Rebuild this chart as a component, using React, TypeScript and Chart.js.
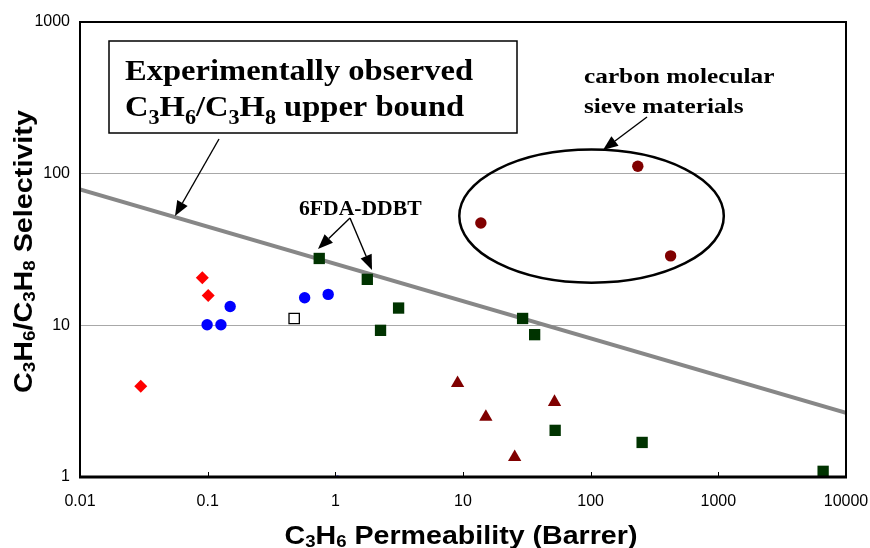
import { useEffect, useRef } from "react";
import { Chart, registerables } from "chart.js";

Chart.register(...registerables);

// C3H6 permeability (Barrer) vs. C3H6/C3H8 selectivity, grouped by material family
const diamondPerm = [0.0908, 0.101, 0.0299];
const diamondSel = [20.6, 15.7, 3.96];
const circlePerm = [0.099, 0.127, 0.15, 0.575, 0.879, 1.04];
const circleSel = [10.1, 10.1, 13.3, 15.2, 16.0, 0.94];
const openSquarePerm = [0.476];
const openSquareSel = [11.1];
const ddbtPerm = [0.748, 1.78, 3.13, 2.26, 29.3, 36.4, 52.7, 253, 6620];
const ddbtSel = [27.6, 20.1, 13.0, 9.27, 11.1, 8.68, 2.03, 1.69, 1.09];
const trianglePerm = [9.07, 15.1, 52.1, 25.4];
const triangleSel = [4.16, 2.49, 3.12, 1.35];
const cmsPerm = [13.8, 234, 423];
const cmsSel = [47.3, 112, 28.7];

// upper bound trade-off line end points
const boundPerm = [0.01, 10000];
const boundSel = [78.7, 2.65];

const xTickValues = [0.01, 0.1, 1, 10, 100, 1000, 10000];
const xTickLabels = ["0.01", "0.1", "1", "10", "100", "1000", "10000"];
const yTickValues = [1, 10, 100, 1000];
const yTickLabels = ["1", "10", "100", "1000"];

// carbon molecular sieve grouping ellipse (centre in data units, radii in decades)
const cmsEllipseCenter = { perm: 101.6, sel: 52.5 };
const cmsEllipseRadius = { permDecades: 1.036, selDecades: 0.439 };

const zip = (xs: number[], ys: number[]) => xs.map((x, i) => ({ x, y: ys[i] }));

type Seg = { t: string; sub?: boolean };

function richWidth(ctx: CanvasRenderingContext2D, segs: Seg[], font: (s: number) => string, size: number, subScale: number) {
  let w = 0;
  for (const s of segs) {
    ctx.font = font(s.sub ? size * subScale : size);
    w += ctx.measureText(s.t).width;
  }
  return w;
}

function drawRich(
  ctx: CanvasRenderingContext2D,
  x: number,
  y: number,
  segs: Seg[],
  opts: { family: string; size: number; subScale: number; subDrop: number; sx: number; align: "left" | "center" }
) {
  const font = (s: number) => `bold ${s}px ${opts.family}`;
  const w = richWidth(ctx, segs, font, opts.size, opts.subScale);
  ctx.save();
  ctx.translate(x, y);
  ctx.scale(opts.sx, 1);
  let cx = opts.align === "center" ? -w / 2 : 0;
  ctx.textBaseline = "alphabetic";
  ctx.textAlign = "left";
  ctx.fillStyle = "#000";
  for (const s of segs) {
    const size = s.sub ? opts.size * opts.subScale : opts.size;
    ctx.font = font(size);
    ctx.fillText(s.t, cx, s.sub ? opts.size * opts.subDrop : 0);
    cx += ctx.measureText(s.t).width;
  }
  ctx.restore();
}

function drawArrow(ctx: CanvasRenderingContext2D, x1: number, y1: number, x2: number, y2: number, head = 15, half = 6) {
  const ang = Math.atan2(y2 - y1, x2 - x1);
  const bx = x2 - Math.cos(ang) * head;
  const by = y2 - Math.sin(ang) * head;
  ctx.save();
  ctx.strokeStyle = "#000";
  ctx.fillStyle = "#000";
  ctx.lineWidth = 1.4;
  ctx.beginPath();
  ctx.moveTo(x1, y1);
  ctx.lineTo(bx, by);
  ctx.stroke();
  ctx.beginPath();
  ctx.moveTo(x2, y2);
  ctx.lineTo(bx + Math.sin(ang) * half, by - Math.cos(ang) * half);
  ctx.lineTo(bx - Math.sin(ang) * half, by + Math.cos(ang) * half);
  ctx.closePath();
  ctx.fill();
  ctx.restore();
}

const SERIF = "'Liberation Serif', 'Times New Roman', serif";
const SANS = "'Liberation Sans', Arial, sans-serif";

const overlayPlugin = {
  id: "overlay",
  afterDraw(chart: any) {
    const ctx: CanvasRenderingContext2D = chart.ctx;
    const { left, right, top, bottom } = chart.chartArea;
    const xs = chart.scales.x;
    const ys = chart.scales.y;

    // plot frame
    ctx.save();
    ctx.strokeStyle = "#000";
    ctx.lineWidth = 2;
    ctx.strokeRect(left, top, right - left, bottom - top);
    ctx.lineWidth = 3;
    ctx.beginPath();
    ctx.moveTo(left - 1, bottom);
    ctx.lineTo(right + 1, bottom);
    ctx.stroke();

    // small inward tick marks on the x axis
    ctx.lineWidth = 1;
    for (const v of xTickValues.slice(1, -1)) {
      const px = Math.round(xs.getPixelForValue(v)) + 0.5;
      ctx.beginPath();
      ctx.moveTo(px, bottom);
      ctx.lineTo(px, bottom - 5);
      ctx.stroke();
    }
    ctx.restore();

    // ellipse around the carbon molecular sieve points
    const ecx = xs.getPixelForValue(cmsEllipseCenter.perm);
    const ecy = ys.getPixelForValue(cmsEllipseCenter.sel);
    const erx = xs.getPixelForValue(cmsEllipseCenter.perm * Math.pow(10, cmsEllipseRadius.permDecades)) - ecx;
    const ery = ecy - ys.getPixelForValue(cmsEllipseCenter.sel * Math.pow(10, cmsEllipseRadius.selDecades));
    ctx.save();
    ctx.strokeStyle = "#000";
    ctx.lineWidth = 2.5;
    ctx.beginPath();
    ctx.ellipse(ecx, ecy, erx, ery, 0, 0, Math.PI * 2);
    ctx.stroke();
    ctx.restore();

    // upper bound label box
    ctx.save();
    ctx.fillStyle = "#fff";
    ctx.fillRect(109, 41, 408, 92);
    ctx.strokeStyle = "#000";
    ctx.lineWidth = 1.5;
    ctx.strokeRect(109, 41, 408, 92);
    ctx.restore();
    const boxOpts = { family: SERIF, size: 30, subScale: 0.68, subDrop: 0.27, sx: 1.085, align: "left" as const };
    drawRich(ctx, 125, 80, [{ t: "Experimentally observed" }], boxOpts);
    drawRich(
      ctx,
      125,
      116,
      [
        { t: "C" }, { t: "3", sub: true }, { t: "H" }, { t: "6", sub: true },
        { t: "/C" }, { t: "3", sub: true }, { t: "H" }, { t: "8", sub: true },
        { t: " upper bound" },
      ],
      boxOpts
    );
    drawArrow(ctx, 219, 139, 175, 216);

    // 6FDA-DDBT label
    drawRich(ctx, 299, 215, [{ t: "6FDA-DDBT" }], { family: SERIF, size: 21, subScale: 1, subDrop: 0, sx: 1.03, align: "left" });
    drawArrow(ctx, 350, 218, 318, 249);
    drawArrow(ctx, 350, 218, 372, 270);

    // carbon molecular sieve label
    const cmsOpts = { family: SERIF, size: 22, subScale: 1, subDrop: 0, sx: 1.15, align: "left" as const };
    drawRich(ctx, 584, 83, [{ t: "carbon molecular" }], cmsOpts);
    drawRich(ctx, 584, 113, [{ t: "sieve materials" }], cmsOpts);
    drawArrow(ctx, 647, 117, 603, 150);

    // axis titles
    const titleOpts = { family: SANS, size: 26, subScale: 0.65, subDrop: 0.1, sx: 1.1, align: "center" as const };
    drawRich(
      ctx,
      461,
      544,
      [{ t: "C" }, { t: "3", sub: true }, { t: "H" }, { t: "6", sub: true }, { t: " Permeability (Barrer)" }],
      titleOpts
    );
    ctx.save();
    ctx.translate(32, 251.5);
    ctx.rotate(-Math.PI / 2);
    drawRich(
      ctx,
      0,
      0,
      [
        { t: "C" }, { t: "3", sub: true }, { t: "H" }, { t: "6", sub: true },
        { t: "/C" }, { t: "3", sub: true }, { t: "H" }, { t: "8", sub: true },
        { t: " Selectivity" },
      ],
      { family: SANS, size: 25, subScale: 0.65, subDrop: 0.1, sx: 1.15, align: "center" }
    );
    ctx.restore();
  },
};

export default function App() {
  const canvasRef = useRef<HTMLCanvasElement | null>(null);

  useEffect(() => {
    document.body.style.margin = "0";
    const canvas = canvasRef.current;
    if (!canvas) return;

    const chart = new Chart(canvas, {
      type: "scatter",
      data: {
        datasets: [
          {
            label: "diamonds",
            data: zip(diamondPerm, diamondSel),
            pointStyle: "rectRot",
            pointRadius: 6.5,
            backgroundColor: "#ff0000",
            borderColor: "#ff0000",
            borderWidth: 0,
            order: 1,
          },
          {
            label: "circles",
            data: zip(circlePerm, circleSel),
            pointStyle: "circle",
            pointRadius: 5.7,
            backgroundColor: "#0000ff",
            borderColor: "#0000ff",
            borderWidth: 0,
            clip: 0,
            order: 1,
          },
          {
            label: "open square",
            data: zip(openSquarePerm, openSquareSel),
            pointStyle: "rect",
            pointRadius: 7.3,
            backgroundColor: "#ffffff",
            borderColor: "#000000",
            borderWidth: 1.3,
            order: 1,
          },
          {
            label: "6FDA-DDBT",
            data: zip(ddbtPerm, ddbtSel),
            pointStyle: "rect",
            pointRadius: 8,
            backgroundColor: "#003300",
            borderColor: "#003300",
            borderWidth: 0,
            order: 1,
          },
          {
            label: "triangles",
            data: zip(trianglePerm, triangleSel),
            pointStyle: "triangle",
            pointRadius: 7.7,
            backgroundColor: "#800000",
            borderColor: "#800000",
            borderWidth: 0,
            order: 1,
          },
          {
            label: "carbon molecular sieve",
            data: zip(cmsPerm, cmsSel),
            pointStyle: "circle",
            pointRadius: 5.7,
            backgroundColor: "#800000",
            borderColor: "#800000",
            borderWidth: 0,
            order: 1,
          },
          {
            type: "line",
            label: "upper bound",
            data: zip(boundPerm, boundSel),
            borderColor: "#878787",
            borderWidth: 4,
            pointRadius: 0,
            fill: false,
            order: 10,
          },
        ] as any,
      },
      options: {
        responsive: false,
        animation: false,
        devicePixelRatio: 1,
        layout: { padding: { top: 22, right: 24, left: 0, bottom: 0 } },
        plugins: { legend: { display: false }, tooltip: { enabled: false } },
        scales: {
          x: {
            type: "logarithmic",
            min: 0.01,
            max: 10000,
            afterBuildTicks: (s: any) => {
              s.ticks = xTickValues.map((value) => ({ value }));
            },
            afterFit: (s: any) => {
              s.height = 71;
              s.paddingLeft = 0;
              s.paddingRight = 0;
            },
            ticks: {
              callback: (v: any) => xTickLabels[xTickValues.indexOf(Number(v))],
              font: { family: SANS, size: 16 },
              color: "#000",
              padding: 15,
              maxRotation: 0,
              autoSkip: false,
            },
            grid: { display: false, drawTicks: false },
            border: { display: false },
          },
          y: {
            type: "logarithmic",
            min: 1,
            max: 1000,
            afterBuildTicks: (s: any) => {
              s.ticks = yTickValues.map((value) => ({ value }));
            },
            afterFit: (s: any) => {
              s.width = 80;
              s.paddingTop = 0;
              s.paddingBottom = 0;
            },
            ticks: {
              callback: (v: any) => yTickLabels[yTickValues.indexOf(Number(v))],
              font: { family: SANS, size: 16 },
              color: "#000",
              padding: 10,
              autoSkip: false,
            },
            grid: {
              drawTicks: false,
              lineWidth: 1,
              color: (c: any) => (c.tick && (c.tick.value === 10 || c.tick.value === 100) ? "#a8a8a8" : "rgba(0,0,0,0)"),
            },
            border: { display: false },
          },
        },
      },
      plugins: [overlayPlugin],
    } as any);

    return () => chart.destroy();
  }, []);

  return (
    <div style={{ position: "relative", width: 870, height: 548 }}>
      <canvas ref={canvasRef} width={870} height={548} style={{ display: "block" }} />
    </div>
  );
}
